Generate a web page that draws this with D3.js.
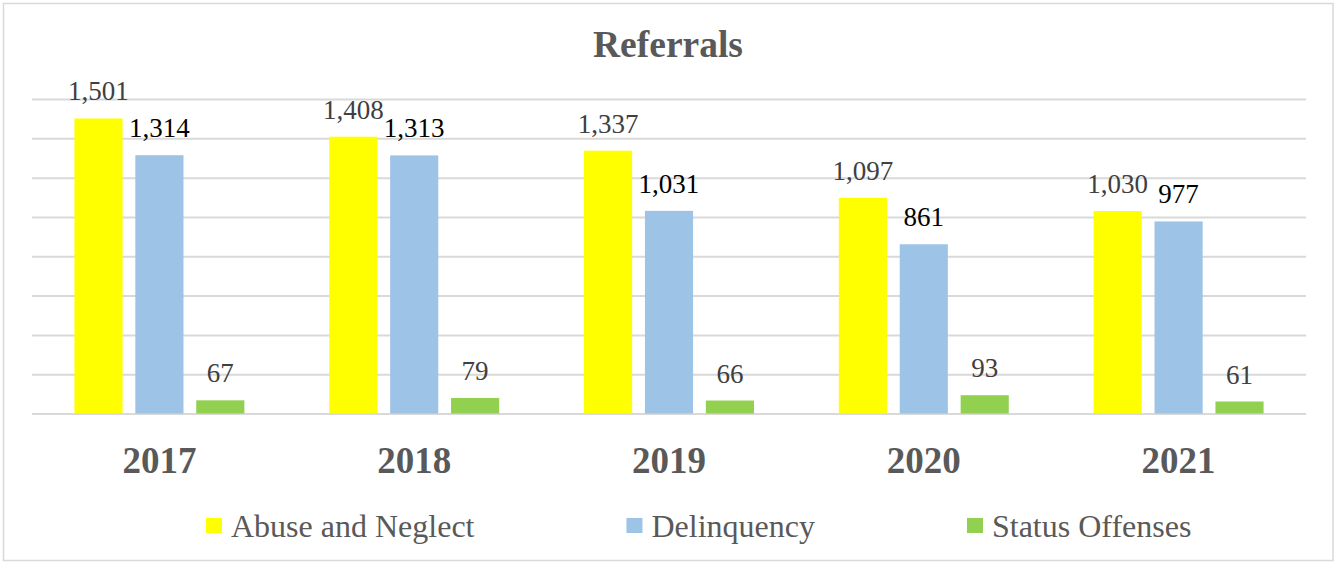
<!DOCTYPE html>
<html>
<head>
<meta charset="utf-8">
<script src="https://cdn.jsdelivr.net/npm/d3@7"></script>
<style>
  body { margin: 0; background: #fff; }
  svg { display: block; font-family: 'Liberation Serif', 'Times New Roman', serif; }
</style>
</head>
<body>
<div id="chart"></div>
<script>
const years = ['2017', '2018', '2019', '2020', '2021'];
const seriesNames = ['Abuse and Neglect', 'Delinquency', 'Status Offenses'];
const abuseNeglect = [1501, 1408, 1337, 1097, 1030];
const delinquency = [1314, 1313, 1031, 861, 977];
const statusOffenses = [67, 79, 66, 93, 61];
const yTicks = [0, 200, 400, 600, 800, 1000, 1200, 1400, 1600];

const colors = ['#ffff00', '#9dc3e6', '#92d050'];
const labelColors = ['#404040', '#000000', '#404040'];

const width = 1335;
const height = 562;
const plot = { left: 32, right: 1306, top: 99, bottom: 413.5 };

const seriesValues = [abuseNeglect, delinquency, statusOffenses];
const rows = years.map((year, i) => ({
  year,
  values: seriesValues.map((vals, s) => ({ key: s, value: vals[i] })),
}));

const svg = d3.select('#chart')
  .append('svg')
  .attr('width', width)
  .attr('height', height);

// outer chart border
svg.append('rect')
  .attr('x', 3.5)
  .attr('y', 3.5)
  .attr('width', 1329.5)
  .attr('height', 557)
  .attr('fill', '#fff')
  .attr('stroke', '#d9d9d9')
  .attr('stroke-width', 1.5);

const x0 = d3.scaleBand()
  .domain(years)
  .range([plot.left, plot.right]);

const groupPad = x0.bandwidth() * 0.1665;
const x1 = d3.scaleBand()
  .domain(d3.range(seriesNames.length))
  .range([groupPad, x0.bandwidth() - groupPad])
  .paddingInner(0.21);

const y = d3.scaleLinear()
  .domain([0, 1600])
  .range([plot.bottom, plot.top]);

// gridlines
const yAxis = d3.axisLeft(y)
  .tickValues(yTicks)
  .tickSize(-(plot.right - plot.left))
  .tickFormat('');

svg.append('g')
  .attr('transform', `translate(${plot.left},0)`)
  .call(yAxis)
  .call(g => g.select('.domain').remove())
  .call(g => g.selectAll('.tick line')
    .attr('stroke', '#d9d9d9')
    .attr('stroke-width', 2));

// title
svg.append('text')
  .attr('x', 668)
  .attr('y', 57)
  .attr('text-anchor', 'middle')
  .style('font-size', '37.5px')
  .style('font-weight', 'bold')
  .style('fill', '#595959')
  .text('Referrals');

const groups = svg.append('g')
  .selectAll('g')
  .data(rows)
  .enter()
  .append('g')
  .attr('transform', d => `translate(${x0(d.year)},0)`);

groups.selectAll('rect')
  .data(d => d.values)
  .enter()
  .append('rect')
  .attr('x', d => x1(d.key))
  .attr('width', x1.bandwidth())
  .attr('y', d => y(d.value))
  .attr('height', d => y(0) - y(d.value))
  .attr('fill', d => colors[d.key]);

groups.selectAll('text')
  .data(d => d.values)
  .enter()
  .append('text')
  .attr('x', d => x1(d.key) + x1.bandwidth() / 2)
  .attr('y', d => y(d.value) - 18)
  .attr('text-anchor', 'middle')
  .style('font-size', '27px')
  .style('fill', d => labelColors[d.key])
  .text(d => d3.format(',')(d.value));

// category axis labels
const xAxis = d3.axisBottom(x0).tickSize(0).tickPadding(0);
svg.append('g')
  .attr('transform', `translate(0,${plot.bottom})`)
  .call(xAxis)
  .call(g => g.select('.domain').remove())
  .call(g => g.selectAll('.tick text')
    .attr('y', 59.5)
    .attr('dy', null)
    .style('font-family', "'Liberation Serif', 'Times New Roman', serif")
    .style('font-size', '37px')
    .style('font-weight', 'bold')
    .style('fill', '#595959'));

// legend
const legend = svg.append('g');
let lx = 206;
seriesNames.forEach((name, i) => {
  legend.append('rect')
    .attr('x', lx)
    .attr('y', 518)
    .attr('width', 16)
    .attr('height', 15)
    .attr('fill', colors[i]);
  const t = legend.append('text')
    .attr('x', lx + 25)
    .attr('y', 537)
    .style('font-size', '32px')
    .style('fill', '#595959')
    .text(name);
  lx += 25 + t.node().getComputedTextLength() + 152;
});
</script>
</body>
</html>
